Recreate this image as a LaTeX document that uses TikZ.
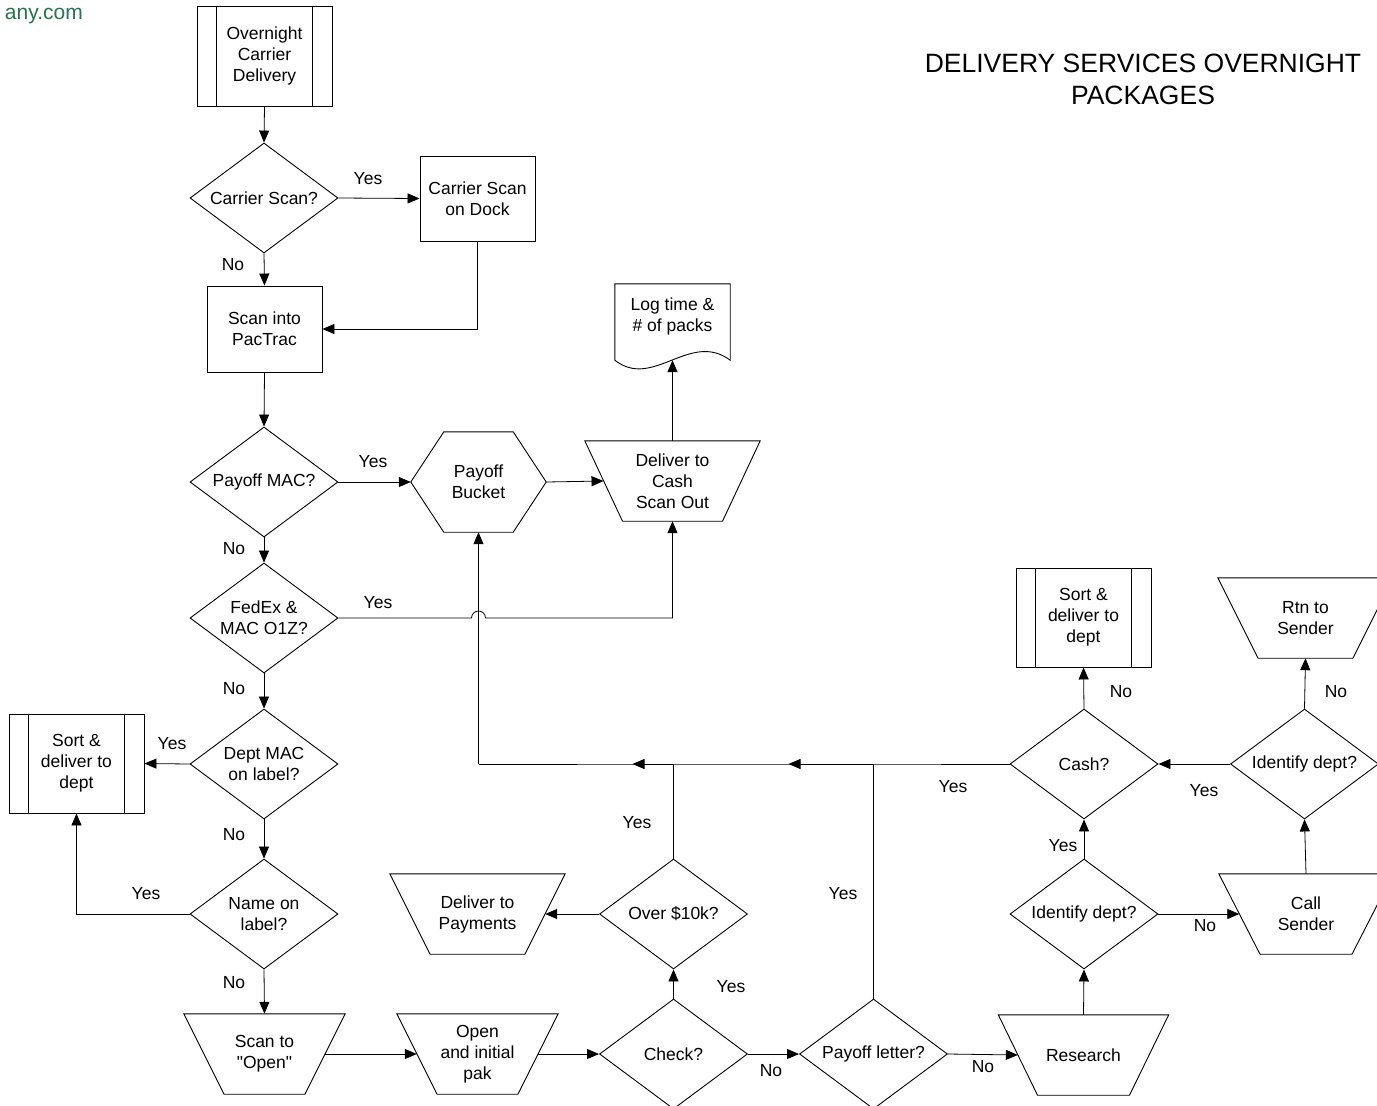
\documentclass[tikz,border=0pt]{standalone}
\usepackage{fontspec}
\setmainfont{Liberation Sans}
\newfontfamily\plainfam{Liberation Sans}
\usetikzlibrary{shapes.geometric,arrows.meta,calc}
\definecolor{webgreen}{RGB}{38,115,80}
\tikzset{
  every node/.style={font=\fontsize{17.5}{21}\selectfont},
  txt/.style={align=center, inner sep=0pt},
  shp/.style={draw=black, line width=0.9pt},
  dia/.style={diamond, shp, align=center, inner sep=0pt, shape aspect=1.345,
              minimum width=148pt, minimum height=110pt},
  boxx/.style={rectangle, shp, align=center, inner sep=0pt},
  lnk/.style={line width=0.8pt, draw=black},
  con/.style={lnk, -{Triangle[length=12pt,width=10pt]}},
  lab/.style={inner sep=0pt}
}
\newcommand\trapez[7]{%
  \node[txt, minimum width=#4pt, minimum height=#6pt] (#1) at (#2,#3) {#7};
  \draw[shp] (#1.north west) -- (#1.north east) -- ($(#1.south)+(#5/2,0)$) -- ($(#1.south)+(-#5/2,0)$) -- cycle;
  \coordinate (#1-l) at ($(#1.west)+({(#4-#5)/4},0)$);
  \coordinate (#1-r) at ($(#1.east)-({(#4-#5)/4},0)$);
}
\newcommand\pproc[6]{%
  \node[boxx, minimum width=#4pt, minimum height=#5pt] (#1) at (#2,#3) {#6};
  \draw[shp] ($(#1.north west)+(20,0)$) -- ($(#1.south west)+(20,0)$);
  \draw[shp] ($(#1.north east)+(-20,0)$) -- ($(#1.south east)+(-20,0)$);
}
\begin{document}
\begin{tikzpicture}[x=1pt,y=-1pt]
\useasboundingbox (0,0) rectangle (1377,1106);
\clip (0,0) rectangle (1377,1106);

% header text
\node[lab, anchor=base east, text=webgreen, font=\fontsize{21}{25}\selectfont] (web) at (83,19) {any.com};
\node[txt, font=\fontsize{26.5}{32}\selectfont] (title) at (1143,79) {DELIVERY SERVICES OVERNIGHT\\PACKAGES};

% left column
\pproc{ocd}{264.5}{56}{135}{100}{Overnight\\Carrier\\Delivery}
\node[dia] (cs) at (264,198) {Carrier Scan?};
\node[boxx, minimum width=115pt, minimum height=85pt] (csd) at (477.5,198.5) {Carrier Scan\\on Dock};
\node[boxx, minimum width=115pt, minimum height=86pt] (spt) at (264.5,329) {Scan into\\PacTrac};
\node[dia] (pm) at (264,482) {Payoff MAC?};
\node[dia] (fx) at (264,618) {FedEx \&\\MAC O1Z?};
\node[dia] (dm) at (264,764) {Dept MAC\\on label?};
\pproc{sdl}{76.5}{763.5}{135}{99}{Sort \&\\deliver to\\dept}
\node[dia] (nl) at (264,914) {Name on\\label?};

% hexagon
\node[txt, minimum width=135pt, minimum height=100pt] (pb) at (478.5,482) {Payoff\\Bucket};
\draw[shp] (pb.west) -- ($(pb.north west)+(33,0)$) -- ($(pb.north east)+(-33,0)$) -- (pb.east)
  -- ($(pb.south east)+(-33,0)$) -- ($(pb.south west)+(33,0)$) -- cycle;

% deliver to cash
\trapez{dc}{672.5}{481}{175}{100}{80}{Deliver to\\Cash\\Scan Out}

% document
\node[txt, minimum width=115pt, minimum height=64pt] (log) at (672.5,316) {Log time \&\\\# of packs};
\draw[shp] (log.north west) -- (log.north east) -- ($(log.south east)+(0,12)$)
  .. controls ($(log.south)+(17.5,-18)$) and ($(log.south)+(-19.5,42)$) .. ($(log.south west)+(0,12)$) -- cycle;
\coordinate (log-b) at ($(log.south)+(0,12)$);

% bottom row
\trapez{so}{264.5}{1054}{161}{81}{80}{Scan to\\{\plainfam"Open"}}
\trapez{oi}{477.5}{1054}{161}{81}{80}{Open\\and initial\\pak}
\node[dia] (ck) at (673.5,1054) {Check?};
\node[dia] (ov) at (673.5,914) {Over \$10k?};
\trapez{dp}{477.5}{914}{175}{95}{80}{Deliver to\\Payments}
\node[dia] (pl) at (873.5,1054) {Payoff letter?};
\trapez{rs}{1083.5}{1055}{170}{92}{80}{Research}
\node[dia] (id1) at (1084,914) {Identify dept?};
\node[dia] (cash) at (1084,764) {Cash?};
\pproc{sdr}{1083.5}{617.5}{135}{99}{Sort \&\\deliver to\\dept}
\trapez{csn}{1306}{914}{174}{92}{80}{Call\\Sender}
\node[dia] (id2) at (1304.5,764) {Identify dept?};
\trapez{rtn}{1305.5}{618}{175}{95}{80}{Rtn to\\Sender}

% connectors
\draw[con] (ocd.south) -- (cs.north);
\draw[con] (cs.east) -- (csd.west);
\draw[con] (cs.south) -- (spt.north);
\draw[con] (csd.south) |- (spt.east);
\draw[con] (spt.south) -- (pm.north);
\draw[con] (pm.east) -- (pb.west);
\draw[con] (pb.east) -- (dc-l);
\draw[con] (dc.north) -- (log-b);
\draw[con] (pm.south) -- (fx.north);
\coordinate (jmp) at (pb.south |- fx.east);
\draw[con] (fx.east) -- ($(jmp)+(-7,0)$) arc[start angle=180, end angle=360, radius=7]
  -- (dc.south |- fx.east) -- (dc.south);
\draw[con] (fx.south) -- (dm.north);
\draw[con] (dm.west) -- (sdl.east);
\draw[con] (dm.south) -- (nl.north);
\draw[con] (nl.west) -| (sdl.south);
\draw[con] (nl.south) -- (so.north);
\draw[con] (so-r) -- (oi-l);
\draw[con] (oi-r) -- (ck.west);
\draw[con] (ck.east) -- (pl.west);
\draw[con] (ck.north) -- (ov.south);
\draw[con] (ov.west) -- (dp-r);
\draw[con] (pl.east) -- (rs-l);
\draw[con] (rs.north) -- (id1.south);
\draw[con] (id1.north) -- (cash.south);
\draw[con] (id1.east) -- (csn-l);
\draw[con] (csn.north) -- (id2.south);
\draw[con] (id2.north) -- (rtn.south);
\draw[con] (id2.west) -- (cash.east);
\draw[con] (cash.north) -- (sdr.south);

\coordinate (jA) at (pl.north |- cash.west);
\coordinate (jB) at (ov.north |- cash.west);
\coordinate (crn) at (pb.south |- cash.west);
\draw[lnk] (cash.west) -- (jA) -- (jB) -- (crn);
\draw[con] (jA) -- ($(jA)+(-85,0)$);
\draw[con] (jB) -- ($(jB)+(-41,0)$);
\draw[con] (crn) -- (pb.south);
\draw[lnk] (pl.north) -- (jA);
\draw[lnk] (ov.north) -- (jB);

% labels
\node[lab] (l1) at (368,179) {Yes};
\node[lab] (l2) at (233,265) {No};
\node[lab] (l3) at (373,462) {Yes};
\node[lab] (l4) at (234,549) {No};
\node[lab] (l5) at (378,603) {Yes};
\node[lab] (l6) at (234,689) {No};
\node[lab] (l7) at (172,744) {Yes};
\node[lab] (l8) at (234,835) {No};
\node[lab] (l9) at (146,894) {Yes};
\node[lab] (l10) at (234,983) {No};
\node[lab] (l11) at (771,1071) {No};
\node[lab] (l12) at (731,987) {Yes};
\node[lab] (l13) at (637,823) {Yes};
\node[lab] (l14) at (843,894) {Yes};
\node[lab] (l15) at (983,1067) {No};
\node[lab] (l16) at (953,787) {Yes};
\node[lab] (l17) at (1063,846) {Yes};
\node[lab] (l18) at (1205,926) {No};
\node[lab] (l19) at (1204,791) {Yes};
\node[lab] (l20) at (1121,692) {No};
\node[lab] (l21) at (1336,692) {No};
\end{tikzpicture}
\end{document}
